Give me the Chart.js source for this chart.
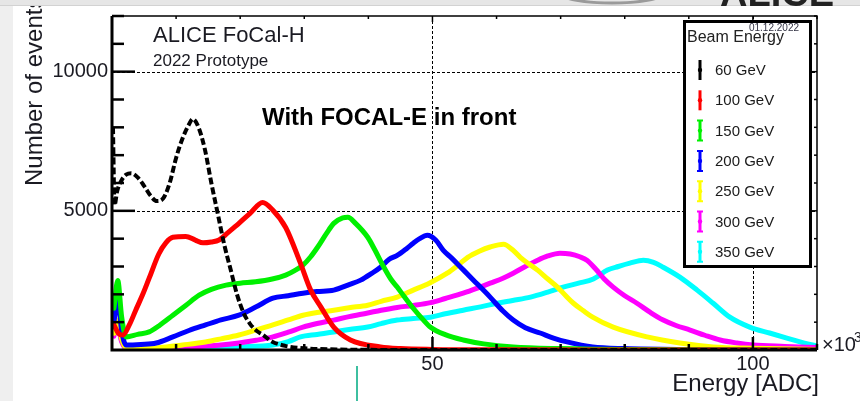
<!DOCTYPE html>
<html>
<head>
<meta charset="utf-8">
<script src="https://cdn.jsdelivr.net/npm/chart.js@4.4.1/dist/chart.umd.min.js"></script>
<style>
  html, body { margin: 0; padding: 0; background: #fff; }
  #wrap { position: relative; width: 860px; height: 401px; overflow: hidden; }
  canvas { position: absolute; left: 0; top: 0; }
</style>
</head>
<body>
<div id="wrap"><canvas id="chart" width="860" height="401"></canvas></div>
<script>
// beam energies and colours (ROOT palette)
const beamLabels = ["60 GeV", "100 GeV", "150 GeV", "200 GeV", "250 GeV", "300 GeV", "350 GeV"];
const beamColors = ["#000000", "#ff0000", "#00f000", "#0000ff", "#ffff00", "#ff00ff", "#00ffff"];

// energy in ADC x10^3 / number of events
const e60 = [0.15, 0.4, 0.8, 1.5, 2.2, 3, 4, 5, 6, 7, 8, 9, 10, 11, 12, 12.6, 13.5, 14.5, 15.5, 16.5, 17.5, 18.5, 19.5, 20.5, 21.5, 22.5, 23.5, 25, 27, 30, 35, 40, 50, 60, 80, 110];
const n60 = [8000, 5200, 5700, 6100, 6300, 6350, 6200, 5900, 5550, 5350, 5450, 6000, 6900, 7600, 8100, 8300, 8000, 7200, 6000, 4900, 3800, 2900, 2000, 1350, 950, 700, 550, 300, 150, 60, 20, 5, 2, 0, 0, 0];

const e100 = [0.3, 1, 1.7, 2.7, 3.7, 4.8, 5.8, 7.3, 8.4, 9.5, 11.5, 13, 14.2, 15.5, 16.7, 18, 19.8, 21.5, 23.5, 25, 27.1, 29.4, 31, 32.6, 34.6, 37.2, 41.9, 45, 50, 60, 80, 110];
const n100 = [900, 600, 540, 900, 1430, 2000, 2580, 3450, 3850, 4050, 4080, 3950, 3850, 3880, 3950, 4200, 4550, 4900, 5300, 5050, 4400, 3120, 2150, 1540, 820, 360, 110, 50, 20, 5, 0, 0];

const e150 = [0.3, 0.9, 1.5, 2.2, 4, 5.8, 7.5, 9.5, 11.5, 13.6, 15.5, 17.8, 20, 22.4, 25, 27.1, 28.5, 29.8, 31, 32.1, 33.5, 34.6, 36, 36.8, 38, 39.9, 41, 42.4, 43.5, 44.5, 45.5, 47, 48.5, 49.7, 52, 54.8, 58, 62.6, 70, 80, 110];
const n150 = [1500, 2500, 1200, 470, 560, 650, 900, 1250, 1600, 1970, 2180, 2330, 2400, 2450, 2550, 2690, 2850, 3050, 3350, 3700, 4200, 4550, 4750, 4770, 4550, 4050, 3600, 2980, 2550, 2260, 1950, 1500, 1100, 820, 550, 360, 220, 110, 50, 15, 0];

const e200 = [0.3, 0.9, 1.5, 2.2, 4.5, 6.9, 9.5, 12, 14.6, 17, 19.8, 22.5, 25.1, 27.5, 29.8, 32, 34.6, 37, 38.8, 40.5, 41.9, 43.2, 44.5, 46, 47, 48, 49.2, 50.5, 51.7, 53, 54.4, 56.4, 59, 61, 62.6, 64.5, 66.8, 69, 71, 75, 80, 90, 110];
const n200 = [1000, 1860, 700, 180, 200, 250, 470, 700, 900, 1080, 1250, 1550, 1860, 1950, 2040, 2100, 2150, 2350, 2510, 2750, 2975, 3250, 3400, 3650, 3835, 4000, 4120, 3950, 3580, 3300, 2975, 2510, 1900, 1400, 1075, 800, 610, 420, 290, 110, 50, 15, 0];

const e250 = [0.3, 0.8, 1.5, 2.2, 5, 8, 11, 14.6, 17, 19.8, 22.5, 25.1, 27.5, 29.8, 32, 34.6, 37, 39.9, 42, 44.5, 47, 49.5, 52.3, 54, 55.5, 57.3, 59, 61.1, 62.5, 63.7, 65, 66.4, 68, 69.5, 70.8, 72, 73.5, 75, 78.2, 83.5, 88.6, 93.8, 100, 110];
const n250 = [600, 1070, 400, 80, 60, 100, 180, 290, 400, 540, 720, 900, 1080, 1250, 1350, 1430, 1520, 1610, 1750, 1900, 2150, 2400, 2760, 3050, 3330, 3550, 3700, 3800, 3600, 3330, 3100, 2870, 2550, 2260, 1950, 1680, 1420, 1180, 820, 470, 250, 110, 60, 20];

const e300 = [0.3, 0.8, 1.5, 2.2, 6, 10, 14, 17, 19.8, 22.5, 25.1, 27.5, 29.8, 32, 34.6, 37, 39.9, 42, 44.5, 47, 49.7, 52, 54.8, 57, 59, 61, 62.6, 64.5, 66.4, 68, 69.9, 71.5, 73, 74.1, 75.5, 76.8, 78.2, 80, 81.9, 84, 86, 88, 90.2, 92.5, 94.9, 97.5, 100, 105, 110];
const n300 = [500, 900, 300, 60, 40, 70, 130, 180, 250, 350, 470, 640, 820, 950, 1075, 1200, 1330, 1430, 1530, 1600, 1700, 1850, 2040, 2220, 2400, 2580, 2760, 3000, 3225, 3380, 3480, 3450, 3350, 3225, 2900, 2550, 2260, 1950, 1680, 1350, 1075, 880, 717, 530, 358, 250, 180, 130, 90];

const e350 = [0.3, 0.8, 1.5, 2.2, 6, 10, 15, 20, 25.1, 27.5, 29.4, 32, 34.6, 37, 39.9, 42, 44.5, 47, 49.7, 52, 54.8, 57.5, 60.1, 62.5, 65.3, 68, 70.4, 72.8, 75.1, 77.3, 79, 80.8, 82.9, 84.5, 86, 88.6, 91.3, 93.8, 96.4, 99.5, 102.6, 105.3, 109.3, 110];
const n350 = [700, 1000, 350, 60, 40, 50, 70, 110, 180, 300, 470, 560, 645, 740, 824, 950, 1075, 1130, 1180, 1300, 1430, 1550, 1680, 1780, 1900, 2080, 2260, 2400, 2550, 2870, 3000, 3120, 3225, 3150, 2975, 2620, 2150, 1680, 1180, 824, 610, 430, 180, 150];

const energies = [e60, e100, e150, e200, e250, e300, e350];
const counts = [n60, n100, n150, n200, n250, n300, n350];

// axis ticks
const xMajor = [50, 100];
const yMajor = [5000, 10000];

const FONT = "'Liberation Sans', Arial, sans-serif";

const datasets = beamLabels.map((label, i) => ({
  label: label,
  data: energies[i].map((e, k) => ({ x: e, y: counts[i][k] })),
  borderColor: beamColors[i],
  borderWidth: i === 0 ? 4 : 5,
  borderDash: i === 0 ? [7, 3] : [],
  borderJoinStyle: "round",
  borderCapStyle: i === 0 ? "butt" : "round",
  pointRadius: 0,
  cubicInterpolationMode: "monotone",
  fill: false
}));

// ROOT-like frame, dashed grid, inward ticks, legend and labels
const rootFrame = {
  id: "rootFrame",
  beforeDatasetsDraw(chart) {
    const { ctx, chartArea: a, scales: { x, y } } = chart;
    ctx.save();
    ctx.strokeStyle = "#000";
    ctx.lineWidth = 1;
    ctx.setLineDash([3, 2]);
    xMajor.forEach(v => {
      const px = Math.round(x.getPixelForValue(v)) + 0.5;
      ctx.beginPath(); ctx.moveTo(px, a.top); ctx.lineTo(px, a.bottom); ctx.stroke();
    });
    yMajor.forEach(v => {
      const py = Math.round(y.getPixelForValue(v)) + 0.5;
      ctx.beginPath(); ctx.moveTo(a.left, py); ctx.lineTo(a.right, py); ctx.stroke();
    });
    ctx.restore();
  },
  afterDatasetsDraw(chart) {
    const { ctx, chartArea: a, scales: { x, y } } = chart;
    ctx.save();
    ctx.strokeStyle = "#000";
    ctx.setLineDash([]);
    // thin top/right border
    ctx.lineWidth = 1.5;
    ctx.beginPath();
    ctx.moveTo(a.left, a.top); ctx.lineTo(a.right, a.top); ctx.lineTo(a.right, a.bottom);
    ctx.stroke();
    // y ticks
    ctx.lineWidth = 2.5;
    for (let v = 1000; v <= 12000; v += 1000) {
      const py = y.getPixelForValue(v);
      const major = yMajor.includes(v);
      ctx.beginPath(); ctx.moveTo(a.left, py); ctx.lineTo(a.left + (major ? 23 : 12), py); ctx.stroke();
      ctx.lineWidth = 1.5;
      ctx.beginPath(); ctx.moveTo(a.right, py); ctx.lineTo(a.right - (major ? 6 : 3), py); ctx.stroke();
      ctx.lineWidth = 2.5;
    }
    // x ticks
    for (let v = 10; v <= 110; v += 10) {
      const px = x.getPixelForValue(v);
      const major = xMajor.includes(v);
      ctx.beginPath(); ctx.moveTo(px, a.bottom); ctx.lineTo(px, a.bottom - (major ? 13 : 6)); ctx.stroke();
      ctx.lineWidth = 1.5;
      ctx.beginPath(); ctx.moveTo(px, a.top); ctx.lineTo(px, a.top + (major ? 6 : 3)); ctx.stroke();
      ctx.lineWidth = 2.5;
    }
    // thick left and bottom axes
    ctx.lineWidth = 3;
    ctx.beginPath();
    ctx.moveTo(a.left, a.top); ctx.lineTo(a.left, a.bottom); ctx.lineTo(a.right, a.bottom);
    ctx.stroke();
    ctx.restore();
  },
  afterDraw(chart) {
    const { ctx, chartArea: a } = chart;
    ctx.save();
    ctx.setLineDash([]);

    // legend box
    const lx = 684, ly = 21, lw = 126, lh = 245;
    ctx.fillStyle = "#fff";
    ctx.fillRect(lx, ly, lw, lh);
    ctx.strokeStyle = "#000";
    ctx.lineWidth = 3;
    ctx.strokeRect(lx + 0.5, ly + 0.5, lw, lh);
    ctx.fillStyle = "#334";
    ctx.font = "10px " + FONT;
    ctx.textAlign = "right";
    ctx.textBaseline = "middle";
    ctx.fillText("01.12.2022", 799, 28);
    ctx.fillStyle = "#222";
    ctx.font = "16px " + FONT;
    ctx.textAlign = "left";
    ctx.fillText("Beam Energy", 687, 38);
    chart.data.datasets.forEach((ds, i) => {
      const yc = 70 + i * 30.3;
      ctx.strokeStyle = ds.borderColor;
      ctx.lineWidth = 3;
      ctx.beginPath(); ctx.moveTo(700, yc - 10); ctx.lineTo(700, yc + 10); ctx.stroke();
      if (i >= 2) {
        ctx.lineWidth = 2;
        ctx.beginPath();
        ctx.moveTo(697, yc - 10); ctx.lineTo(703, yc - 10);
        ctx.moveTo(697, yc + 10); ctx.lineTo(703, yc + 10);
        ctx.stroke();
      }
      ctx.fillStyle = ds.borderColor;
      ctx.beginPath(); ctx.arc(700, yc, 2.2, 0, Math.PI * 2); ctx.fill();
      ctx.fillStyle = "#1a1a1a";
      ctx.font = "15px " + FONT;
      ctx.fillText(ds.label, 715, yc + 1);
    });

    // plot texts
    ctx.fillStyle = "#1a1a22";
    ctx.font = "22px " + FONT;
    ctx.fillText("ALICE FoCal-H", 153, 36);
    ctx.font = "17px " + FONT;
    ctx.fillText("2022 Prototype", 153, 61);
    ctx.fillStyle = "#000";
    ctx.font = "bold 24px " + FONT;
    ctx.fillText("With FOCAL-E in front", 262, 118);

    // axis titles
    ctx.fillStyle = "#1a1a22";
    ctx.font = "24px " + FONT;
    ctx.textAlign = "right";
    ctx.fillText("Energy [ADC]", a.right + 2, 384);
    ctx.textAlign = "left";
    ctx.font = "20px " + FONT;
    ctx.fillText("\u00d710", 822, 345);
    ctx.font = "14px " + FONT;
    ctx.fillText("3", 854, 338);
    ctx.save();
    ctx.translate(35, 186);
    ctx.rotate(-Math.PI / 2);
    ctx.font = "24px " + FONT;
    ctx.textAlign = "left";
    ctx.fillText("Number of events", 0, 0);
    ctx.restore();

    // slide background bits
    ctx.fillStyle = "#efefef";
    ctx.fillRect(0, 0, 13, 401);
    ctx.fillStyle = "#e6e6e6";
    ctx.fillRect(0, 0, 860, 5);
    ctx.fillStyle = "#d2d2d2";
    ctx.fillRect(0, 5, 860, 1);
    ctx.strokeStyle = "#9a9a9a";
    ctx.lineWidth = 3;
    ctx.beginPath(); ctx.ellipse(612, -6, 50, 9, 0, 0, Math.PI); ctx.stroke();
    ctx.fillStyle = "#222";
    ctx.font = "bold 38px " + FONT;
    ctx.textBaseline = "alphabetic";
    ctx.fillText("ALICE", 720, 6);
    ctx.fillStyle = "#3dbfa0";
    ctx.fillRect(356, 366, 2, 35);
    ctx.restore();
  }
};

new Chart(document.getElementById("chart"), {
  type: "line",
  data: { datasets: datasets },
  options: {
    responsive: false,
    animation: false,
    devicePixelRatio: 1,
    layout: { padding: { left: 0, top: 16, right: 43, bottom: 0 } },
    plugins: { legend: { display: false }, tooltip: { enabled: false } },
    scales: {
      x: {
        type: "linear",
        min: 0,
        max: 110,
        border: { display: false },
        grid: { display: false, drawTicks: false },
        ticks: {
          stepSize: 10,
          autoSkip: false,
          maxRotation: 0,
          padding: 2,
          color: "#1a1a22",
          font: { size: 20, family: FONT },
          callback: v => (xMajor.includes(v) ? String(v) : "")
        },
        afterFit: s => { s.height = 51; }
      },
      y: {
        min: 0,
        max: 12000,
        border: { display: false },
        grid: { display: false, drawTicks: false },
        ticks: {
          stepSize: 1000,
          autoSkip: false,
          padding: 4,
          color: "#1a1a22",
          font: { size: 20, family: FONT },
          callback: v => (yMajor.includes(v) ? String(v) : "")
        },
        afterFit: s => { s.width = 112; }
      }
    }
  },
  plugins: [rootFrame]
});
</script>
</body>
</html>
